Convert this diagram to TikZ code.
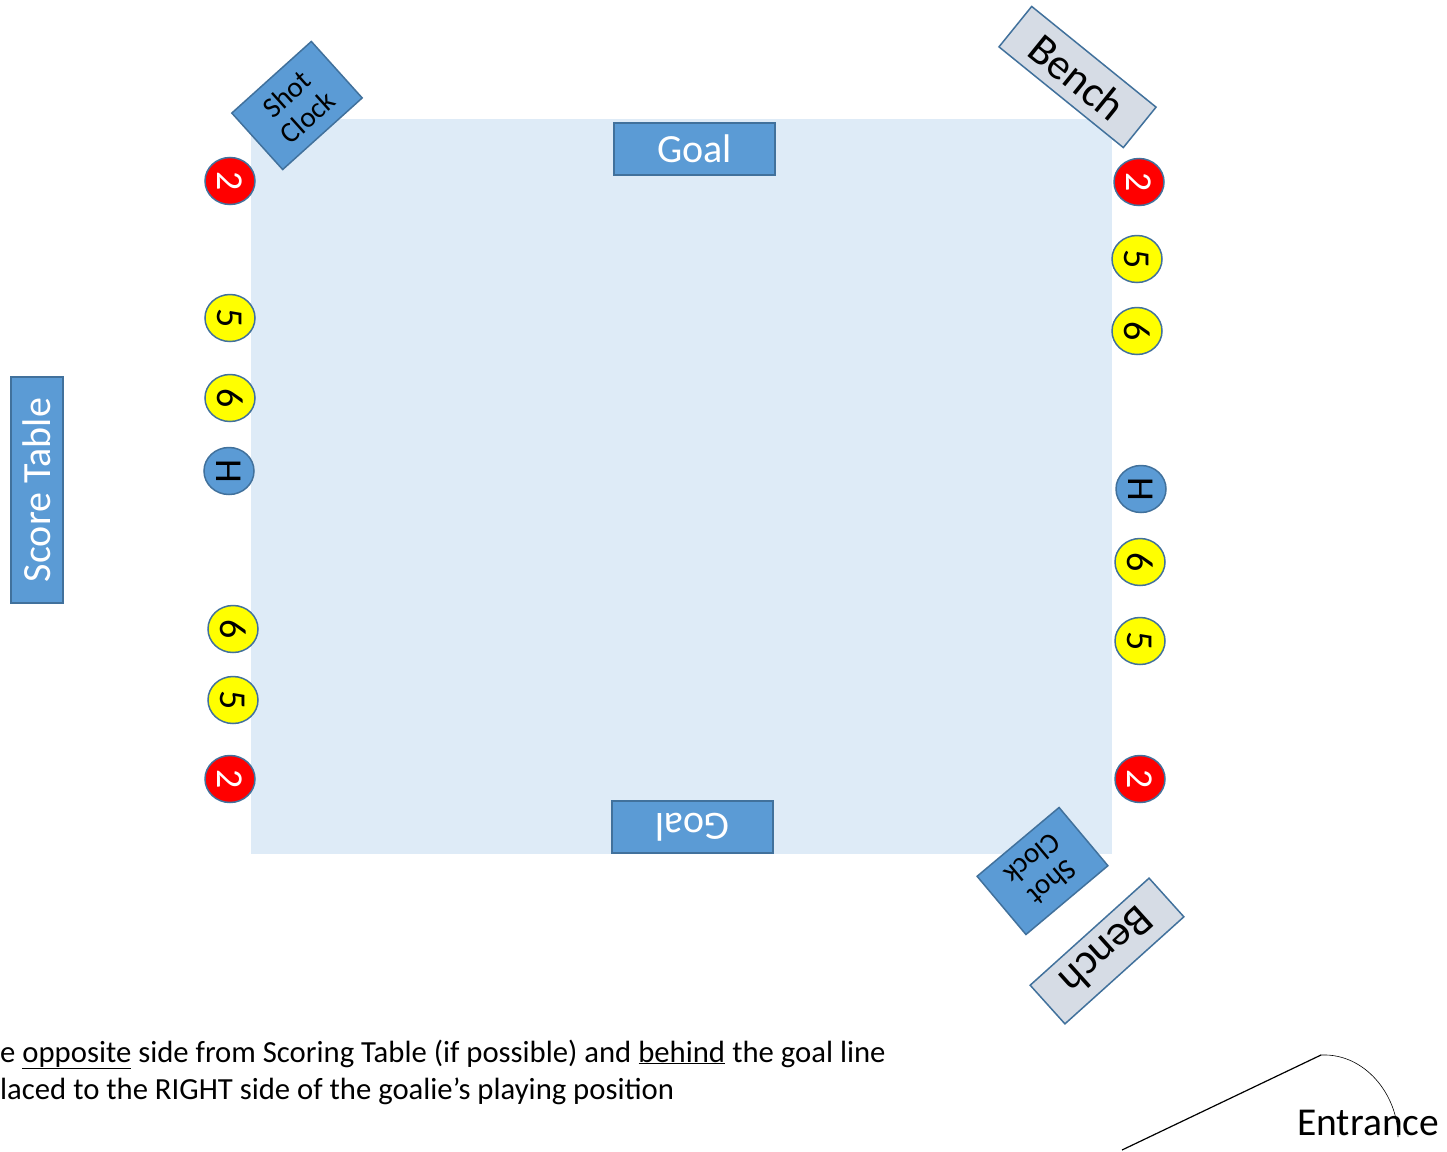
\documentclass[tikz,border=0pt]{standalone}
\usepackage{fontspec}
\setmainfont{Carlito}
\usetikzlibrary{shapes.geometric}
\definecolor{rink}{HTML}{DEEBF7}
\definecolor{accblue}{HTML}{5B9BD5}
\definecolor{edgeblue}{HTML}{41719C}
\definecolor{benchgrey}{HTML}{D6DCE5}
\definecolor{pred}{HTML}{FF0000}
\definecolor{pyellow}{HTML}{FFFF00}
\newcommand{\fs}[1]{\fontsize{#1}{#1}\selectfont}
\begin{document}
\begin{tikzpicture}[x=1pt,y=-1pt,
  boxbase/.style={draw=edgeblue,line width=1.5pt,inner sep=0pt,align=center},
  goalbox/.style={boxbase,fill=accblue,text=white,minimum width=161pt,minimum height=52pt,font=\fs{40}},
  tablebox/.style={boxbase,fill=accblue,text=white,minimum width=226pt,minimum height=52pt,font=\fs{40}},
  clockbox/.style={boxbase,fill=accblue,text=black,minimum width=107pt,minimum height=76pt,font=\fontsize{29}{31.5}\selectfont},
  benchbox/.style={boxbase,fill=benchgrey,text=black,minimum width=160pt,minimum height=52pt,font=\fs{43.5}},
  dot/.style={ellipse,draw=edgeblue,line width=1.5pt,inner sep=0pt,minimum width=47pt,minimum height=50pt,rotate=-90,font=\fs{38}},
  reddot/.style={dot,fill=pred,text=white},
  yeldot/.style={dot,fill=pyellow,text=black},
  hdot/.style={dot,fill=accblue,text=black},
  note/.style={anchor=base west,inner sep=0pt,font=\fs{30.7}}
]
\useasboundingbox (0,0) rectangle (1447,1151);
\fill[white] (0,0) rectangle (1447,1151);
% rink
\node[fill=rink,inner sep=0pt,minimum width=861pt,minimum height=735pt,anchor=north west] (rinkarea) at (251,119) {};
% goals
\node[goalbox] (goaltop) at (694.5,149) {Goal};
\node[goalbox,rotate=180] (goalbot) at (692.5,827) {Goal};
% score table
\node[tablebox,rotate=90] (scoretable) at (37,490) {Score Table};
% shot clocks
\node[clockbox,rotate=42] (clocktop) at (297,105.5) {Shot\\Clock};
\node[clockbox,rotate=220] (clockbot) at (1042.5,871) {Shot\\Clock};
% benches
\node[benchbox,rotate=-39] (benchtop) at (1077.5,77) {Bench};
\node[benchbox,rotate=222] (benchbot) at (1107,951) {Bench};
% left side officials
\node[reddot] (l1) at (230,181) {2};
\node[yeldot] (l2) at (230,318) {5};
\node[yeldot] (l3) at (230,398) {6};
\node[hdot] (l4) at (229,471) {H};
\node[yeldot] (l5) at (233,629) {6};
\node[yeldot] (l6) at (233,700) {5};
\node[reddot] (l7) at (230,779) {2};
% right side officials
\node[reddot] (r1) at (1139,182) {2};
\node[yeldot] (r2) at (1137,259) {5};
\node[yeldot] (r3) at (1137,331) {6};
\node[hdot] (r4) at (1141,489) {H};
\node[yeldot] (r5) at (1140,562) {6};
\node[yeldot] (r6) at (1140,641) {5};
\node[reddot] (r7) at (1140,779) {2};
% notes
\node[note] (note1) at (0,1062) {e \underline{opposite} side from Scoring Table (if possible) and \underline{behind} the goal line};
\node[note] (note2) at (0,1099) {laced to the RIGHT side of the goalie’s playing position};
% entrance
\coordinate (hinge) at (1122,1150);
\coordinate (doortip) at (1321,1055);
\coordinate (arcend) at (1398,1137);
\draw[line width=1.2pt] (hinge) -- (doortip);
\draw[line width=0.6pt] (doortip) .. controls (1365,1053) and (1398,1095) .. (arcend);
\node[anchor=base west,inner sep=0pt,font=\fs{39.5}] (entrance) at (1297,1135) {Entrance};
\end{tikzpicture}
\end{document}
